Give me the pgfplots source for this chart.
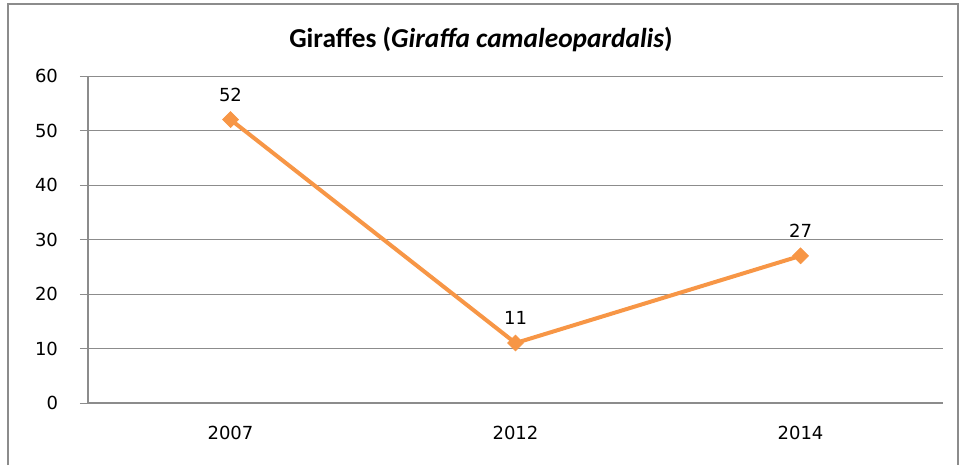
\documentclass[border=0pt]{standalone}
\usepackage{pgfplots}
\pgfplotsset{compat=1.18}
\usepackage{fontspec}
\setmainfont{DejaVu Sans}
\newfontfamily\titlefont{Carlito}
\definecolor{linecol}{HTML}{F79646}
\definecolor{gridcol}{HTML}{8C8C8C}

\begin{document}
\begin{tikzpicture}[x=0.75pt,y=0.75pt]
% frame and page size (pixel units, y from bottom)
\useasboundingbox (0,0) rectangle (962,465);
\draw[gridcol, line width=1.5pt] (8,0) -- (8,461) -- (958,461) -- (958,0);
\node[font=\titlefont\bfseries\fontsize{20.5}{23}\selectfont] at (481,425)
  {Giraffes (\textit{Giraffa camaleopardalis})};

\begin{axis}[
  at={(66pt,46.5pt)}, anchor=origin,
  scale only axis,
  width=641.25pt, height=245.25pt,
  xmin=0, xmax=3,
  ymin=0, ymax=60,
  ytick={0,10,...,60},
  xtick={0.5,1.5,2.5},
  xticklabels={2007,2012,2014},
  major x tick style={draw=none},
  extra x ticks={0,1,2,3},
  extra x tick labels={},
  extra x tick style={major tick length=5pt, tick align=outside,
    tick style={gridcol, line width=0.6pt}},
  axis x line*=bottom, axis y line*=left,
  axis line style={gridcol, line width=0.8pt, -},
  ymajorgrids,
  grid style={gridcol, line width=0.6pt},
  y tick style={gridcol, line width=0.6pt},
  major tick length=6pt, tick align=outside,
  tick label style={font=\fontsize{13.5}{15}\selectfont},
  /pgf/number format/assume math mode=true,
  xticklabel style={yshift=-8pt},
  yticklabel style={xshift=-13pt},
  clip=false,
]
\addplot[linecol, line width=3pt, mark=square*, mark size=4.2pt,
  mark options={fill=linecol, draw=linecol, line width=0.5pt, rotate=45},
  nodes near coords,
  nodes near coords style={font=\fontsize{13.5}{15}\selectfont, black, anchor=south, yshift=10pt},
  point meta=explicit symbolic]
  coordinates {(0.5,52)[52] (1.5,11)[11] (2.5,27)[27]};
\end{axis}
\end{tikzpicture}
\end{document}
